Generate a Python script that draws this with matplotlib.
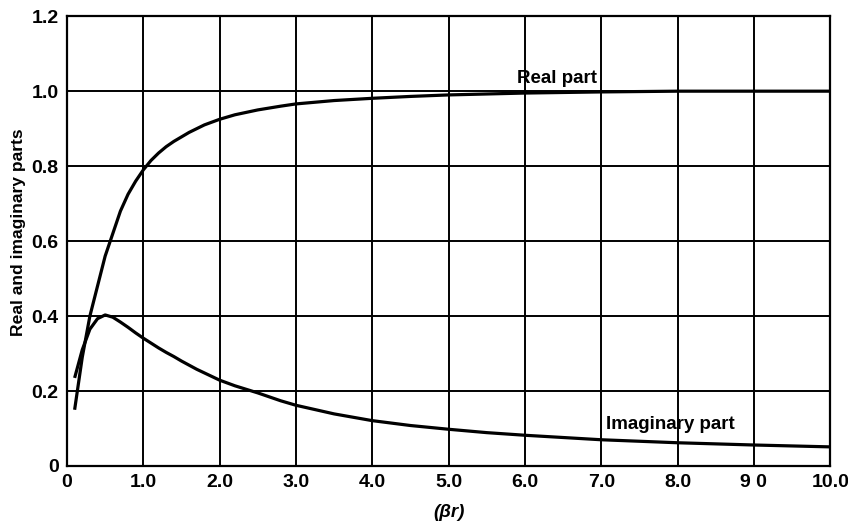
import matplotlib
matplotlib.use("Agg")
import matplotlib.pyplot as plt

# values
x_real = [0.1, 0.2, 0.3, 0.4, 0.5, 0.6, 0.7, 0.8, 0.9, 1.0, 1.1, 1.2, 1.3, 1.4,
          1.6, 1.8, 2.0, 2.2, 2.5, 2.8, 3.0, 3.5, 4.0, 4.5, 5.0, 6.0, 7.0, 8.0,
          9.0, 10.0]
real_part = [0.15, 0.29, 0.40, 0.48, 0.56, 0.62, 0.68, 0.725, 0.76, 0.79, 0.815,
             0.835, 0.852, 0.866, 0.89, 0.91, 0.925, 0.937, 0.95, 0.96, 0.966,
             0.975, 0.981, 0.986, 0.99, 0.995, 0.998, 1.0, 1.0, 1.0]

x_imag = [0.1, 0.2, 0.3, 0.4, 0.5, 0.6, 0.7, 0.8, 0.9, 1.0, 1.1, 1.2, 1.3, 1.4,
          1.5, 1.7, 2.0, 2.2, 2.5, 2.8, 3.0, 3.5, 4.0, 4.5, 5.0, 5.5, 6.0, 7.0,
          8.0, 9.0, 10.0]
imag_part = [0.235, 0.31, 0.365, 0.393, 0.403, 0.397, 0.384, 0.37, 0.355, 0.341,
             0.328, 0.315, 0.303, 0.292, 0.28, 0.258, 0.229, 0.214, 0.195, 0.174,
             0.162, 0.139, 0.121, 0.108, 0.098, 0.089, 0.082, 0.07, 0.062, 0.056,
             0.051]

xticks = [0, 1, 2, 3, 4, 5, 6, 7, 8, 9, 10]
xtick_labels = ["0", "1.0", "2.0", "3.0", "4.0", "5.0", "6.0", "7.0", "8.0", "9 0", "10.0"]
yticks = [0, 0.2, 0.4, 0.6, 0.8, 1.0, 1.2]
ytick_labels = ["0", "0.2", "0.4", "0.6", "0.8", "1.0", "1.2"]

plt.rcParams['font.family'] = ['Liberation Sans', 'DejaVu Sans']

fig = plt.figure(figsize=(8.48, 5.23), dpi=100)
ax = fig.add_axes([0.079, 0.109, 0.900, 0.860])

ax.plot(x_real, real_part, color='black', lw=2.3, solid_capstyle='butt')
ax.plot(x_imag, imag_part, color='black', lw=2.3, solid_capstyle='butt')

ax.set_xlim(0, 10)
ax.set_ylim(0, 1.2)
ax.set_xticks(xticks)
ax.set_xticklabels(xtick_labels)
ax.set_yticks(yticks)
ax.set_yticklabels(ytick_labels)
ax.tick_params(length=0, labelsize=14, pad=6)
for lab in ax.get_xticklabels() + ax.get_yticklabels():
    lab.set_fontweight('bold')

ax.grid(True, color='black', lw=1.4)
for sp in ax.spines.values():
    sp.set_linewidth(1.6)

ax.set_ylabel("Real and imaginary parts", fontsize=12.6, fontweight='bold')
ax.yaxis.set_label_coords(-0.054, 0.52)
ax.set_xlabel("(βr)", fontsize=13.5, fontweight='bold', fontstyle='italic', labelpad=9)

ax.text(5.9, 1.012, "Real part", fontsize=13.5, fontweight='bold', va='bottom', ha='left')
ax.text(7.06, 0.11, "Imaginary part", fontsize=13.5, fontweight='bold', va='center', ha='left')

fig.savefig("out.png", dpi=100)
